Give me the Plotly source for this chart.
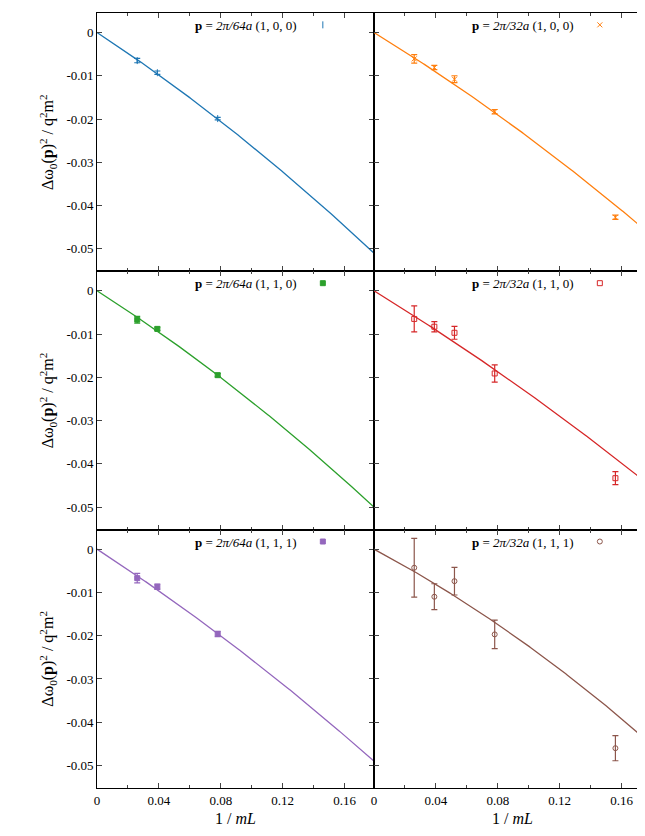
import numpy as np
import plotly.graph_objects as go
from plotly.subplots import make_subplots

x_left = [0.026, 0.039, 0.078]
x_right = [0.026, 0.039, 0.052, 0.078, 0.156]

panels = [
    # row, col, label, color, symbol, x, y, err, fit (a, b)
    (1, 1, "<b>p</b> = <i>2π/64a</i> (1, 0, 0)", "#1f77b4", "line-ns-open", x_left,
     [-0.0065, -0.0093, -0.0199], [0.0005, 0.0004, 0.0003], (-0.2343, -0.283)),
    (1, 2, "<b>p</b> = <i>2π/32a</i> (1, 0, 0)", "#ff7f0e", "x-thin-open", x_right,
     [-0.0061, -0.0081, -0.0108, -0.0183, -0.0427], [0.0010, 0.0005, 0.0008, 0.0005, 0.0005], (-0.2184, -0.2406)),
    (2, 1, "<b>p</b> = <i>2π/64a</i> (1, 1, 0)", "#2ca02c", "square", x_left,
     [-0.0067, -0.0088, -0.0195], [0.0008, 0.0004, 0.0004], (-0.2273, -0.291)),
    (2, 2, "<b>p</b> = <i>2π/32a</i> (1, 1, 0)", "#d62728", "square-open", x_right,
     [-0.0065, -0.0083, -0.0097, -0.0191, -0.0433], [0.0030, 0.0012, 0.0015, 0.0020, 0.0015], (-0.2185, -0.190)),
    (3, 1, "<b>p</b> = <i>2π/64a</i> (1, 1, 1)", "#9467bd", "square", x_left,
     [-0.0067, -0.0087, -0.0196], [0.0011, 0.0006, 0.0006], (-0.2316, -0.2356)),
    (3, 2, "<b>p</b> = <i>2π/32a</i> (1, 1, 1)", "#8c564b", "circle-open", x_right,
     [-0.0043, -0.0110, -0.0074, -0.0197, -0.0460], [0.0068, 0.0030, 0.0032, 0.0033, 0.0029], (-0.1899, -0.344)),
]

FONT = "Liberation Serif"
fig = make_subplots(rows=3, cols=2, horizontal_spacing=0, vertical_spacing=0,
                    shared_xaxes=True, shared_yaxes=True)
xs = np.linspace(0, 0.18, 200)
for i, (r, c, lab, col, sym, x, y, e, (a, b)) in enumerate(panels):
    lg = "legend" if i == 0 else f"legend{i+1}"
    fig.add_trace(go.Scatter(x=xs, y=a * xs + b * xs**2, mode="lines",
                             line=dict(color=col, width=1.3), showlegend=False, hoverinfo="skip"), row=r, col=c)
    fig.add_trace(go.Scatter(x=x, y=y, mode="markers", name=" ", legend=lg,
                             marker=dict(symbol=sym, size=5, color=col, line=dict(color=col, width=1)),
                             error_y=dict(type="data", array=e, color=col, thickness=1.2, width=3)),
                  row=r, col=c)
    ref = fig.get_subplot(r, c)
    xd = ref.xaxis.domain
    yd = ref.yaxis.domain
    fig.update_layout({lg: dict(x=xd[1] - 0.04, y=yd[1] + 0.004, xanchor="right", yanchor="top",
                                bgcolor="rgba(0,0,0,0)", font=dict(family=FONT, size=13),
                                itemwidth=30, tracegroupgap=0)})
    fig.add_annotation(x=xd[1] - 0.135, y=yd[1] - 0.004, xref="paper", yref="paper",
                       xanchor="right", yanchor="top", text=lab, showarrow=False,
                       font=dict(family=FONT, size=13))

fig.update_xaxes(range=[0, 0.179], tickvals=[0, 0.04, 0.08, 0.12, 0.16],
                 ticktext=["0", "0.04", "0.08", "0.12", "0.16"],
                 ticks="inside", ticklen=5, mirror="ticks", showline=True, linecolor="black",
                 linewidth=0.8, showgrid=False, zeroline=False,
                 minor=dict(tickvals=[0.02, 0.06, 0.10, 0.14], ticks="inside", ticklen=3))
fig.update_yaxes(range=[-0.0552, 0.0045], tickvals=[0, -0.01, -0.02, -0.03, -0.04, -0.05],
                 ticktext=["0", "-0.01", "-0.02", "-0.03", "-0.04", "-0.05"],
                 ticks="inside", ticklen=5, mirror="ticks", showline=True, linecolor="black",
                 linewidth=0.8, showgrid=False, zeroline=False)
ytitle = "Δω<sub>0</sub>(<b>p</b>)<sup>2</sup> / q<sup>2</sup>m<sup>2</sup>"
for r in (1, 2, 3):
    fig.update_yaxes(title_text=ytitle, title_standoff=8, row=r, col=1)
for c in (1, 2):
    fig.update_xaxes(title_text="1 / <i>mL</i>", title_standoff=6, row=3, col=c)

fig.update_layout(width=645, height=836, margin=dict(l=89, r=2, t=5, b=56, autoexpand=False),
                  plot_bgcolor="white", paper_bgcolor="white",
                  font=dict(family=FONT, size=13, color="black"))
fig.write_html("out.html")
